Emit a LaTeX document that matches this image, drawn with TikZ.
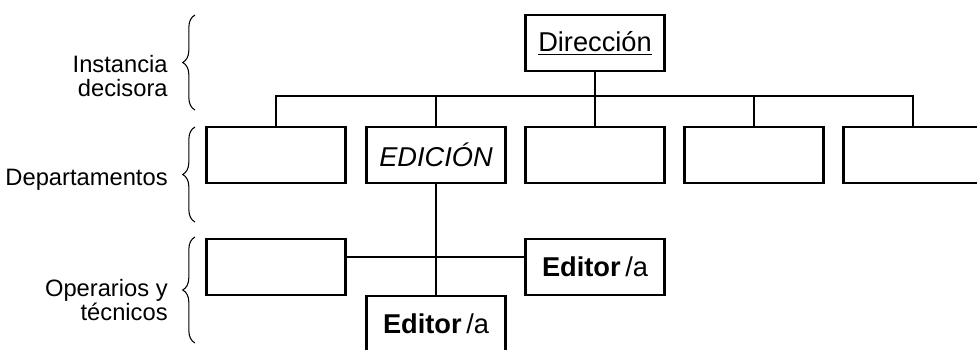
\documentclass[tikz,border=0pt]{standalone}
\usepackage{fontspec}
\setmainfont{Liberation Sans}
\usetikzlibrary{positioning, decorations.pathreplacing}

\tikzset{
  caja/.style={draw, line width=1.5pt, minimum width=2.78cm, minimum height=1.12cm,
    inner sep=0pt, font=\fontsize{15.5}{18}\selectfont},
  conn/.style={line width=0.8pt},
  nivel/.style={anchor=east, align=right, inner sep=0pt, font=\fontsize{13.5}{14}\selectfont},
  llave/.style={decorate, decoration={brace, amplitude=7pt}, line width=0.6pt}
}

\begin{document}
\begin{tikzpicture}[x=0.02cm, y=-0.02cm]
		\clip (0,0) rectangle (977,349);

		% Levels
		\node[nivel] (niv1) at (168,76) {Instancia\\decisora};
		\node[nivel] (niv2) at (168,180) {Departamentos};
		\node[nivel] (niv3) at (168,300) {Operarios y\\técnicos};
		\draw[llave] (195,110) -- (195,15);
		\draw[llave] (195,222) -- (195,127);
		\draw[llave] (195,343) -- (195,237);

		% Boxes
		\node[caja] (dir) at (595,43) {\underline{Dirección}};
		\node[caja] (dep1) at (276,155) {};
		\node[caja] (dep2) at (436,155) {\textit{EDICIÓN}};
		\node[caja] (dep3) at (595,155) {};
		\node[caja] (dep4) at (754,155) {};
		\node[caja] (dep5) at (913,155) {};
		\node[caja] (op1) at (276,267) {};
		\node[caja] (ed1) at (595,267) {\textbf{Editor}\,/a};
		\node[caja] (ed2) at (436,324) {\textbf{Editor}\,/a};

		% Connectors
		\coordinate (bus) at (0,96);
		\draw[conn] (dir.south) -- (dir.south |- bus);
		\draw[conn] (dep1.north) -- (dep1.north |- bus) -- (dep5.north |- bus) -- (dep5.north);
		\foreach \i in {2,3,4}
			\draw[conn] (dep\i.north) -- (dep\i.north |- bus);
		\draw[conn] (dep2.south) -- (ed2.north);
		\draw[conn] ([yshift=0.2cm]op1.east) -- ([yshift=0.2cm]ed1.west);
	\end{tikzpicture}
\end{document}
